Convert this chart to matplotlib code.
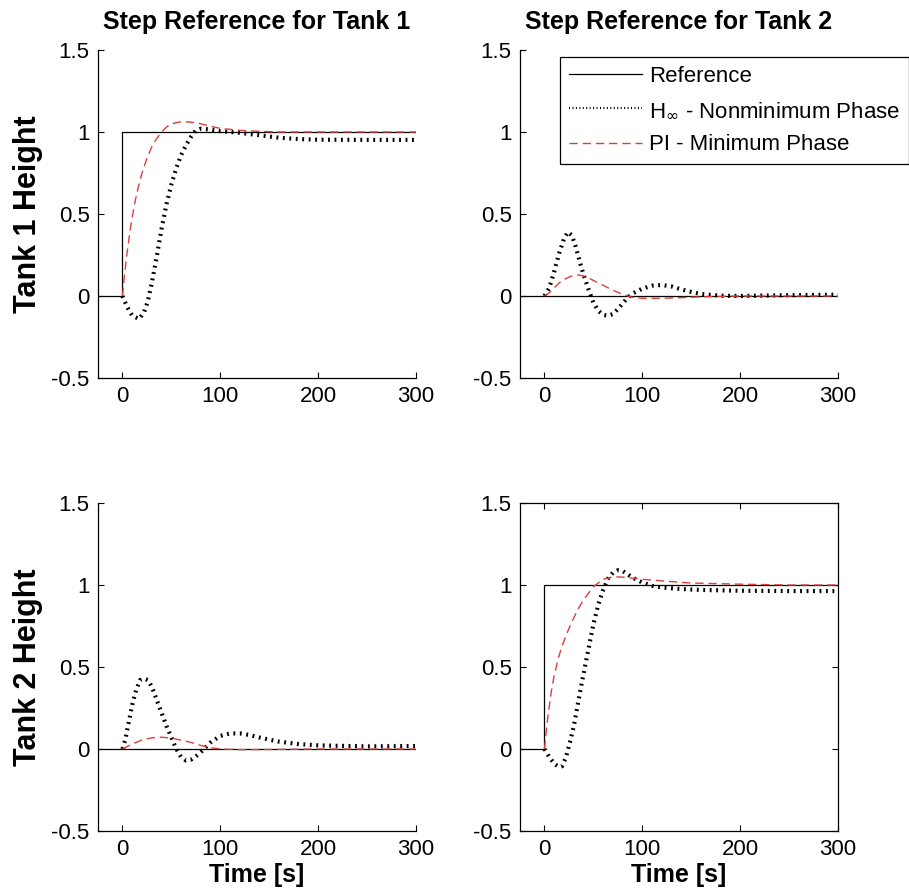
import matplotlib
matplotlib.use("Agg")
import matplotlib.pyplot as plt

plt.rcParams["font.family"] = ["Liberation Sans", "DejaVu Sans"]

# reference signals (step on the driven tank, zero on the other)
ref_t = [-25, 0, 0, 300]
ref_step = [0, 0, 1, 1]
ref_zero = [0, 0, 0, 0]

# step on tank 1 -> tank 1 height
t11_hinf = [0, 5, 10, 17, 22, 26, 30, 35, 40, 45, 50, 55, 60, 65, 70, 75, 80,
            90, 100, 120, 140, 160, 180, 200, 250, 300]
y11_hinf = [0, -0.07, -0.12, -0.14, -0.10, -0.03, 0.08, 0.24, 0.41, 0.56, 0.68,
            0.78, 0.86, 0.92, 0.97, 1.01, 1.02, 1.015, 1.005, 0.995, 0.98, 0.965,
            0.957, 0.953, 0.952, 0.952]
t11_pi = [0, 2, 4, 6, 8, 10, 13, 16, 20, 25, 30, 35, 40, 45, 50, 60, 70, 80,
          90, 100, 120, 140, 160, 200, 300]
y11_pi = [0, 0.12, 0.23, 0.32, 0.41, 0.48, 0.58, 0.66, 0.75, 0.84, 0.91, 0.96,
          1.0, 1.03, 1.05, 1.063, 1.06, 1.05, 1.035, 1.022, 1.01, 1.004, 1.0,
          1.0, 1.0]

# step on tank 1 -> tank 2 height
t12_hinf = [0, 5, 10, 15, 20, 24, 28, 32, 36, 40, 45, 50, 55, 60, 65, 70, 75,
            80, 85, 90, 100, 110, 120, 130, 140, 150, 160, 180, 200, 250, 300]
y12_hinf = [0, 0.05, 0.15, 0.26, 0.35, 0.39, 0.37, 0.30, 0.21, 0.13, 0.04,
            -0.04, -0.09, -0.115, -0.12, -0.11, -0.08, -0.045, -0.01, 0.015,
            0.045, 0.063, 0.067, 0.058, 0.04, 0.025, 0.012, 0.002, 0.0, 0.005,
            0.008]
t12_pi = [0, 5, 10, 15, 20, 25, 30, 35, 40, 45, 50, 60, 70, 80, 90, 100, 120,
          140, 160, 200, 300]
y12_pi = [0, 0.02, 0.05, 0.08, 0.10, 0.115, 0.125, 0.128, 0.122, 0.11, 0.095,
          0.065, 0.035, 0.01, -0.008, -0.014, -0.014, -0.01, -0.005, 0.0, 0.0]

# step on tank 2 -> tank 1 height
t21_hinf = [0, 3, 6, 10, 14, 18, 22, 26, 30, 35, 40, 45, 50, 55, 60, 65, 70,
            75, 80, 85, 90, 100, 110, 120, 130, 140, 160, 180, 200, 250, 300]
y21_hinf = [0, 0.06, 0.15, 0.27, 0.36, 0.42, 0.43, 0.42, 0.38, 0.30, 0.22,
            0.14, 0.07, 0.0, -0.05, -0.07, -0.065, -0.045, -0.02, 0.01, 0.04,
            0.08, 0.095, 0.095, 0.085, 0.07, 0.045, 0.03, 0.022, 0.016, 0.018]
t21_pi = [0, 10, 20, 30, 40, 50, 60, 70, 80, 90, 100, 120, 150, 200, 300]
y21_pi = [0, 0.03, 0.055, 0.068, 0.072, 0.066, 0.054, 0.04, 0.022, 0.008, 0.0,
          -0.004, -0.003, 0.0, 0.0]

# step on tank 2 -> tank 2 height
t22_hinf = [0, 5, 10, 15, 18, 22, 26, 30, 34, 38, 42, 46, 50, 55, 60, 65, 70,
            75, 80, 85, 90, 100, 110, 120, 140, 160, 200, 250, 300]
y22_hinf = [0, -0.05, -0.09, -0.11, -0.105, -0.05, 0.04, 0.14, 0.27, 0.40,
            0.52, 0.64, 0.76, 0.88, 0.97, 1.04, 1.075, 1.09, 1.085, 1.065,
            1.045, 1.015, 0.995, 0.985, 0.975, 0.97, 0.965, 0.963, 0.963]
t22_pi = [0, 2, 4, 7, 10, 14, 18, 22, 26, 30, 35, 40, 45, 50, 60, 70, 80, 100,
          120, 150, 200, 250, 300]
y22_pi = [0, 0.12, 0.22, 0.35, 0.45, 0.55, 0.63, 0.69, 0.75, 0.80, 0.86, 0.91,
          0.95, 0.99, 1.035, 1.05, 1.048, 1.035, 1.025, 1.012, 1.005, 1.0, 1.0]

x_ticks = [0, 100, 200, 300]
y_ticks = [-0.5, 0, 0.5, 1, 1.5]
y_ticklabels = ["-0.5", "0", "0.5", "1", "1.5"]

HINF_STYLE = dict(color="black", lw=3.0, linestyle=(0, (0.45, 1.1)))
PI_STYLE = dict(color="#d8403a", lw=1.0, linestyle=(0, (6, 3.5)))
REF_STYLE = dict(color="black", lw=0.9)

fig = plt.figure(figsize=(9.09, 8.96), dpi=100, facecolor="white")

W, H = 909.0, 896.0
panels = [
    # (left px, top px, ref, hinf t, hinf y, pi t, pi y, full box)
    (98, 50, ref_step, t11_hinf, y11_hinf, t11_pi, y11_pi, False),
    (520, 50, ref_zero, t12_hinf, y12_hinf, t12_pi, y12_pi, False),
    (98, 503, ref_zero, t21_hinf, y21_hinf, t21_pi, y21_pi, False),
    (520, 503, ref_step, t22_hinf, y22_hinf, t22_pi, y22_pi, True),
]
axes = []
for left, top, ref, th, yh, tp, yp, box in panels:
    aw, ah = 318, 328
    ax = fig.add_axes([left / W, 1 - (top + ah) / H, aw / W, ah / H])
    ax.plot(ref_t, ref, label="Reference", **REF_STYLE)
    ax.plot(th, yh, label=r"H$_{\infty}$ - Nonminimum Phase", **HINF_STYLE)
    ax.plot(tp, yp, label="PI - Minimum Phase", **PI_STYLE)
    ax.set_xlim(-25, 300)
    ax.set_ylim(-0.5, 1.5)
    ax.set_xticks(x_ticks)
    ax.set_yticks(y_ticks)
    ax.set_yticklabels(y_ticklabels)
    for s in ax.spines.values():
        s.set_linewidth(0.9)
    if not box:
        ax.spines["top"].set_visible(False)
        ax.spines["right"].set_visible(False)
        ax.tick_params(direction="in", length=4, labelsize=16, pad=6)
    else:
        ax.tick_params(direction="in", length=4, labelsize=16, pad=6,
                       top=True, right=True)
    axes.append(ax)

title_kw = dict(fontsize=18, fontweight="bold", pad=15)
axes[0].set_title("Step Reference for Tank 1", **title_kw)
axes[1].set_title("Step Reference for Tank 2", **title_kw)

lab_kw = dict(fontsize=18, fontweight="bold")
ylab_kw = dict(fontsize=22, fontweight="bold")
axes[0].set_ylabel("Tank 1 Height", labelpad=6, **ylab_kw)
axes[2].set_ylabel("Tank 2 Height", labelpad=6, **ylab_kw)
axes[2].set_xlabel("Time [s]", labelpad=2, **lab_kw)
axes[3].set_xlabel("Time [s]", labelpad=2, **lab_kw)

# legend runs past the right edge of the figure, as in the original
leg = axes[1].legend(loc="upper left", bbox_to_anchor=(0.126, 0.979),
                     borderaxespad=0, fontsize=16, handlelength=3.3,
                     handletextpad=0.3, labelspacing=0.6, borderpad=0.4,
                     fancybox=False, framealpha=1, edgecolor="black")
leg.get_frame().set_linewidth(0.9)
for line in leg.get_lines()[1:2]:
    line.set_linewidth(1.6)

fig.savefig("out.png", dpi=100, facecolor="white")
